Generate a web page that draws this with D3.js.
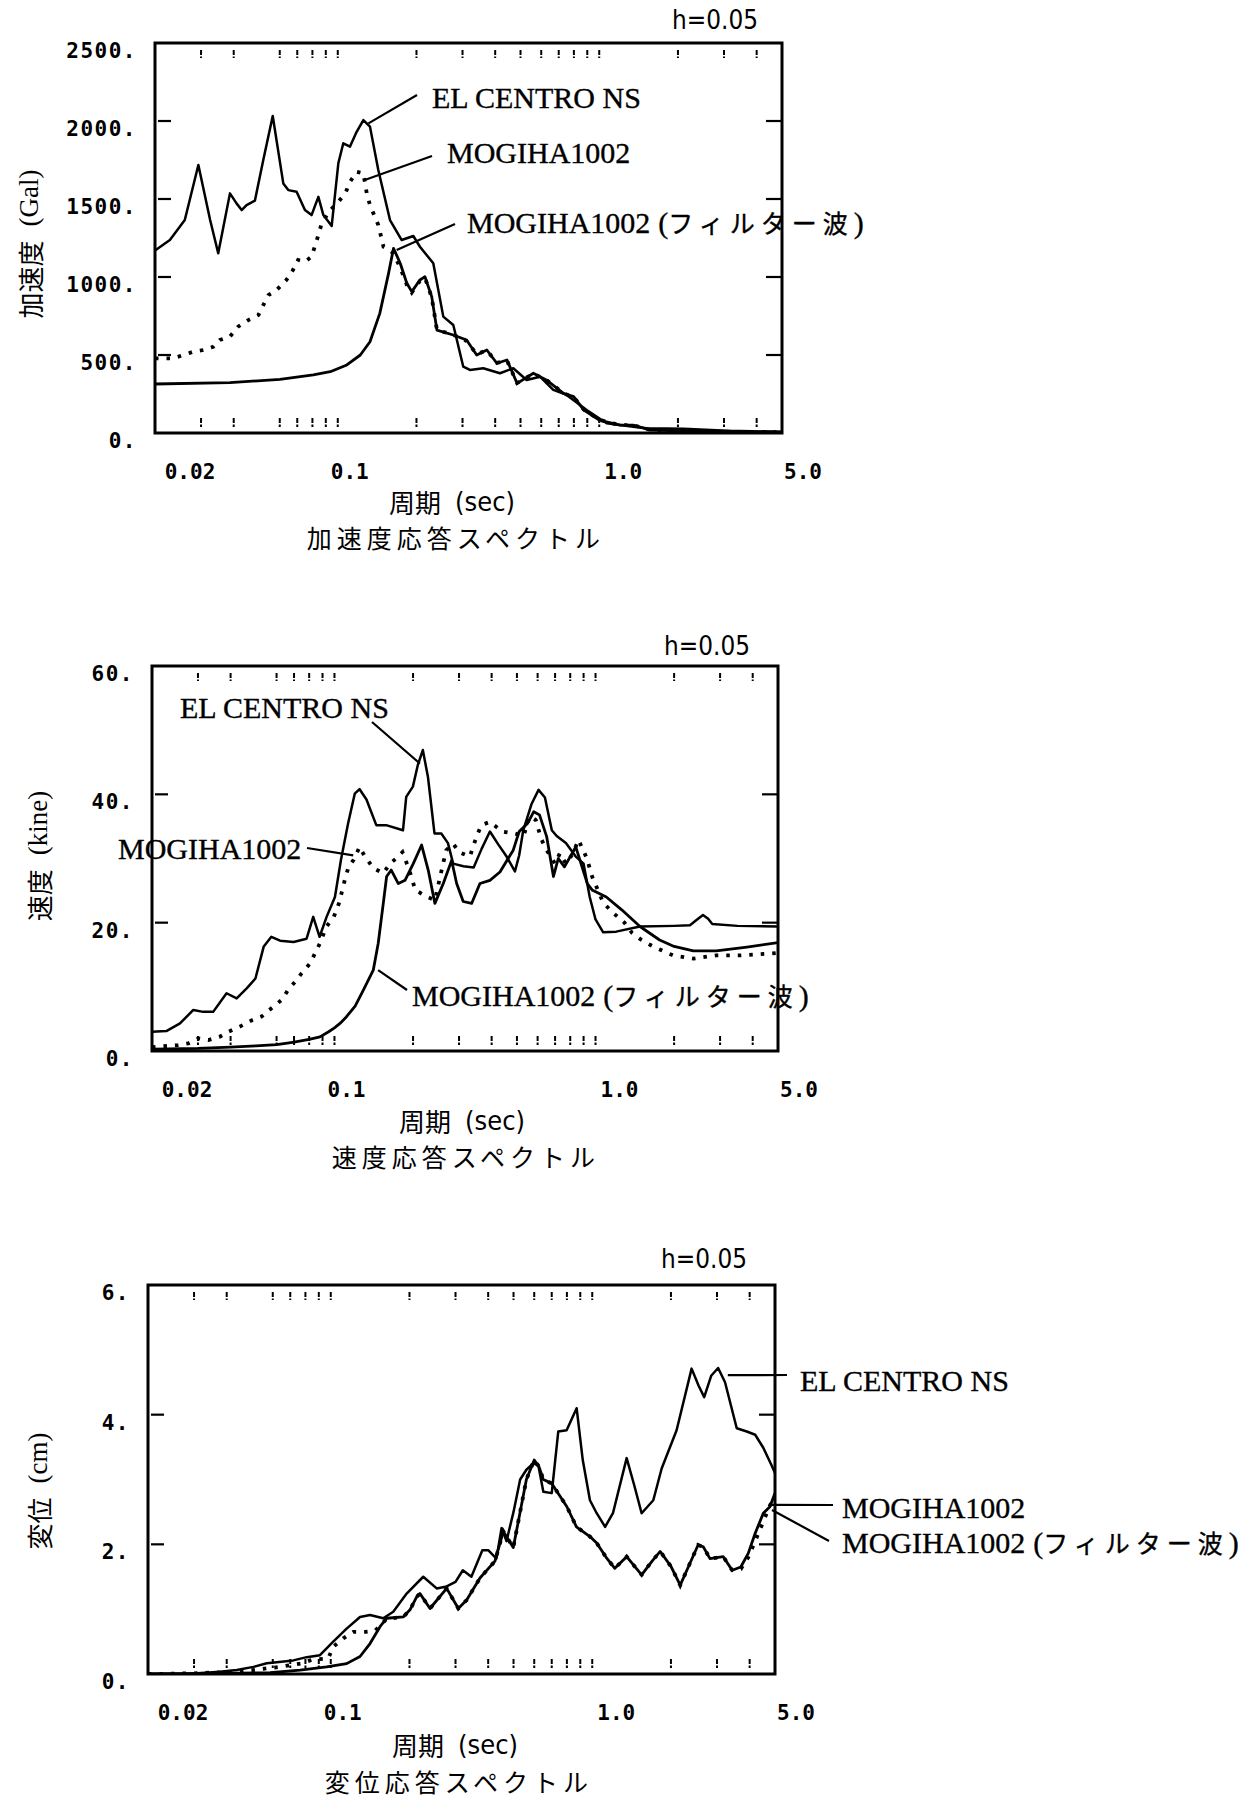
<!DOCTYPE html>
<html>
<head>
<meta charset="utf-8">
<script src="https://cdn.jsdelivr.net/npm/d3@7"></script>
<style>
  body { margin: 0; background: #fff; }
  svg { display: block; }
</style>
</head>
<body>
<svg id="chart" width="1254" height="1803"></svg>
<script>
// ---- data: [period (sec), value] ----
const periodLabelValues = [0.02, 0.1, 1, 5];
const periodLabels = ["0.02", "0.1", "1.0", "5.0"];
const minorPeriods = [0.03, 0.04, 0.06, 0.07, 0.08, 0.09, 0.1, 0.2, 0.3, 0.4, 0.5, 0.6, 0.7, 0.8, 0.9, 1, 2, 3, 4];

const accTicks = [0, 500, 1000, 1500, 2000, 2500];
const accTickLabels = ["0.", "500.", "1000.", "1500.", "2000.", "2500."];
const velTicks = [0, 20, 40, 60];
const velTickLabels = ["0.", "20.", "40.", "60."];
const dispTicks = [0, 2, 4, 6];
const dispTickLabels = ["0.", "2.", "4.", "6."];

// acceleration (Gal)
const accElCentro = [[0.02,1170],[0.0228,1237],[0.026,1365],[0.0293,1718],[0.0325,1365],[0.0349,1152],[0.0387,1536],[0.041,1472],[0.0429,1429],[0.0448,1461],[0.0482,1489],[0.0519,1750],[0.0564,2032],[0.0619,1600],[0.0647,1557],[0.0696,1547],[0.0749,1429],[0.0794,1397],[0.0843,1514],[0.0881,1397],[0.0948,1327],[0.1005,1729],[0.105,1857],[0.1114,1836],[0.1181,1931],[0.1253,2006],[0.1328,1964],[0.1429,1686],[0.1584,1365],[0.1756,1237],[0.1945,1263],[0.2062,1194],[0.2319,1088],[0.2533,746],[0.2766,692],[0.302,425],[0.3203,404],[0.3601,415],[0.4171,383],[0.4691,415],[0.5276,340],[0.5934,361],[0.6672,276],[0.7504,244],[0.8953,147],[1.0675,62],[1.349,40],[1.518,30],[2.1,28],[3.1,15],[5,8]];
const accMogiha = [[0.02,479],[0.0235,479],[0.0257,500],[0.0281,522],[0.0306,532],[0.0334,553],[0.0354,596],[0.0387,618],[0.0416,682],[0.0455,724],[0.0497,756],[0.0519,820],[0.0543,884],[0.0584,917],[0.0636,981],[0.0674,1045],[0.0705,1109],[0.0749,1098],[0.0794,1130],[0.0843,1269],[0.0868,1344],[0.0936,1429],[0.0994,1472],[0.1069,1536],[0.1114,1610],[0.1181,1675],[0.1253,1665],[0.1291,1536],[0.1328,1461],[0.1429,1333],[0.1496,1194],[0.158,1170],[0.1634,1150],[0.1733,1060],[0.1837,950],[0.1919,900],[0.2062,975],[0.2155,995],[0.2287,870],[0.2395,660],[0.2766,630],[0.3109,590],[0.3399,505],[0.3716,530],[0.406,450],[0.4438,465],[0.4852,320],[0.5598,380],[0.6274,340],[0.7301,255],[0.7983,230],[0.8737,150],[1.0,85],[1.2,50],[1.349,50],[1.57,20],[2.4,10],[5,5]];
const accFilter = [[0.02,314],[0.0387,323],[0.0601,344],[0.0806,372],[0.0936,393],[0.1083,436],[0.122,500],[0.1328,585],[0.1448,767],[0.1564,1023],[0.1634,1184],[0.1733,1088],[0.1837,960],[0.1919,906],[0.2062,981],[0.2155,1002],[0.2287,874],[0.2395,660],[0.2766,628],[0.3109,596],[0.3399,500],[0.3716,532],[0.406,447],[0.4438,468],[0.4852,318],[0.5598,383],[0.6274,340],[0.7301,254],[0.7983,233],[0.8737,147],[1.0,83],[1.2,51],[1.349,51],[1.57,19],[2.4,10],[5,5]];

// velocity (kine)
const velElCentro = [[0.02,3.0],[0.0227,3.1],[0.0256,4.3],[0.0288,6.4],[0.0314,6.1],[0.0343,6.1],[0.0386,9.0],[0.0422,8.2],[0.0462,9.8],[0.0498,11.3],[0.0536,16.3],[0.0573,17.8],[0.0619,17.2],[0.0697,17.0],[0.0782,17.5],[0.0829,20.9],[0.0877,17.8],[0.0933,20.9],[0.1004,24.0],[0.1059,29.8],[0.1128,35.5],[0.1196,40.1],[0.1248,40.8],[0.1326,39.2],[0.1446,35.2],[0.1577,35.2],[0.183,34.4],[0.1883,39.6],[0.1997,41.2],[0.2087,44.6],[0.218,46.9],[0.2281,42.7],[0.2416,33.9],[0.2566,33.9],[0.2721,32.4],[0.2848,29.2],[0.3118,28.8],[0.3413,28.6],[0.3661,31.5],[0.394,34.2],[0.424,32.2],[0.4564,30.3],[0.4912,28.0],[0.51,30.5],[0.5286,34.4],[0.5689,38.5],[0.605,40.7],[0.64,39.5],[0.68,34.4],[0.71,33.5],[0.77,32.4],[0.84,30.3],[0.9,29.2],[0.95,24],[1.0,20.5],[1.07,18.5],[1.2,18.6],[1.48,19.4],[2.0,19.5],[2.3,19.6],[2.45,20.5],[2.58,21.2],[2.7,20.6],[2.8,19.8],[3.5,19.5],[5,19.4]];
const velMogiha = [[0.02,0.6],[0.0211,0.67],[0.0252,0.93],[0.0276,1.2],[0.0301,1.97],[0.0329,1.71],[0.0364,2.23],[0.0392,3.0],[0.0434,3.8],[0.0483,4.8],[0.0527,5.4],[0.0575,6.7],[0.0629,8.0],[0.0666,9.6],[0.0707,10.8],[0.0748,12.1],[0.0805,13.6],[0.0842,15.2],[0.088,16.8],[0.0932,19.4],[0.0994,20.9],[0.104,23.0],[0.1072,25.1],[0.1104,27.2],[0.1133,28.7],[0.1184,29.8],[0.1248,31.8],[0.13,30.5],[0.1408,28.5],[0.1538,27.7],[0.1632,29.2],[0.1722,30.0],[0.1822,31.0],[0.1935,28.2],[0.204,25.1],[0.222,24.2],[0.2425,23.5],[0.255,27.5],[0.2679,31.3],[0.2851,32.3],[0.30,31.0],[0.33,30.3],[0.35,33.4],[0.365,35.2],[0.394,35.7],[0.44,34.2],[0.49,33.9],[0.53,33.5],[0.56,36.6],[0.59,36.0],[0.62,33],[0.65,31.3],[0.70,29.2],[0.73,30.8],[0.77,29.2],[0.82,30.8],[0.86,32.9],[0.9,31.2],[0.93,29.8],[0.97,27.2],[1.07,23.1],[1.17,21.5],[1.29,20.0],[1.38,18.4],[1.5,17.3],[1.66,16.3],[1.98,14.9],[2.37,14.4],[2.9,14.9],[3.57,14.9],[4.7,15.2],[5,15.3]];
const velFilter = [[0.02,0.3],[0.03,0.4],[0.04,0.6],[0.05,0.8],[0.06,1.0],[0.065,1.2],[0.07,1.4],[0.08,1.8],[0.088,2.2],[0.095,3.0],[0.1,3.6],[0.105,4.3],[0.111,5.3],[0.12,7.0],[0.129,9.5],[0.1408,12.6],[0.1471,16.8],[0.1538,23],[0.1584,27.2],[0.165,28.2],[0.1756,26.1],[0.1863,26.6],[0.2004,29.2],[0.2157,32.1],[0.2286,28.2],[0.2425,23],[0.2611,26.1],[0.2811,29.7],[0.2938,26.1],[0.3113,23.3],[0.3352,23],[0.3608,26.1],[0.394,26.6],[0.4304,27.9],[0.4839,31.3],[0.51,34.2],[0.55,35.5],[0.58,37.3],[0.61,36.8],[0.65,33.4],[0.69,27.2],[0.72,30.0],[0.76,28.7],[0.84,31.8],[0.93,26.1],[0.97,25.1],[1.1,24.0],[1.26,22.0],[1.48,19.4],[1.76,17.3],[2.0,16.3],[2.37,15.6],[2.9,15.6],[3.8,16.2],[5,16.9]];

// displacement (cm)
const dispElCentro = [[0.02,0],[0.028,0.0],[0.0377,0.036],[0.0437,0.062],[0.0506,0.11],[0.0569,0.165],[0.0621,0.18],[0.0719,0.21],[0.0809,0.26],[0.0909,0.29],[0.1022,0.50],[0.115,0.70],[0.1294,0.88],[0.1413,0.91],[0.1588,0.86],[0.1734,0.96],[0.1951,1.24],[0.2258,1.50],[0.2541,1.32],[0.2775,1.35],[0.30,1.42],[0.32,1.60],[0.345,1.50],[0.38,1.91],[0.40,1.91],[0.43,1.78],[0.45,2.25],[0.47,2.05],[0.5,2.5],[0.53,3.0],[0.56,3.15],[0.595,3.25],[0.622,3.22],[0.65,2.81],[0.70,2.79],[0.7414,3.74],[0.7981,3.76],[0.8716,4.10],[0.92,3.3],[0.98,2.68],[1.04,2.48],[1.12,2.27],[1.2,2.48],[1.354,3.33],[1.45,2.9],[1.545,2.48],[1.712,2.68],[1.843,3.17],[2.102,3.76],[2.399,4.71],[2.55,4.45],[2.68,4.27],[2.85,4.6],[3.03,4.72],[3.22,4.5],[3.57,3.79],[3.9,3.74],[4.2,3.69],[4.51,3.49],[4.85,3.22],[5,3.1]];
const dispMogiha = [[0.02,0],[0.03,0.01],[0.04,0.03],[0.05,0.06],[0.064,0.11],[0.0774,0.165],[0.0848,0.22],[0.0978,0.24],[0.1022,0.42],[0.1117,0.55],[0.1221,0.65],[0.1355,0.65],[0.1481,0.67],[0.1636,0.85],[0.1893,0.88],[0.2009,0.99],[0.2131,1.19],[0.2194,1.24],[0.2396,1.01],[0.2775,1.32],[0.3075,1.01],[0.3309,1.14],[0.3721,1.48],[0.4246,1.74],[0.457,2.2],[0.499,1.95],[0.53,2.5],[0.56,3.0],[0.60,3.3],[0.625,3.2],[0.65,3.0],[0.70,2.94],[0.80,2.58],[0.87,2.27],[0.98,2.12],[1.04,2.02],[1.13,1.8],[1.22,1.63],[1.354,1.81],[1.545,1.53],[1.7,1.75],[1.82,1.89],[2.0,1.66],[2.17,1.37],[2.36,1.70],[2.54,1.99],[2.66,1.96],[2.82,1.78],[3.17,1.81],[3.43,1.60],[3.7,1.62],[3.95,1.8],[4.2,2.05],[4.51,2.35],[4.78,2.6],[5,2.75]];
const dispFilter = [[0.02,0],[0.0377,0.01],[0.0586,0.02],[0.0763,0.06],[0.0964,0.11],[0.115,0.16],[0.1294,0.27],[0.1413,0.47],[0.1543,0.73],[0.1636,0.86],[0.1893,0.88],[0.2009,0.99],[0.2131,1.19],[0.2194,1.24],[0.2396,1.01],[0.2775,1.32],[0.3075,1.01],[0.3309,1.14],[0.3721,1.48],[0.4246,1.74],[0.457,2.2],[0.499,1.95],[0.53,2.5],[0.56,3.0],[0.60,3.3],[0.625,3.2],[0.65,3.0],[0.70,2.94],[0.80,2.58],[0.87,2.27],[0.98,2.12],[1.04,2.02],[1.13,1.8],[1.22,1.63],[1.354,1.81],[1.545,1.53],[1.7,1.75],[1.82,1.89],[2.0,1.66],[2.17,1.37],[2.36,1.70],[2.54,1.99],[2.66,1.96],[2.82,1.78],[3.17,1.81],[3.43,1.60],[3.7,1.65],[3.95,1.86],[4.2,2.17],[4.51,2.48],[4.78,2.58],[5,2.79]];

const seriesNames = ["EL CENTRO NS", "MOGIHA1002", "MOGIHA1002"];
const filterSuffix = "フィルター波";

// ---- fonts / styles ----
const cjkFont = "'Noto Sans CJK JP', 'Noto Sans CJK SC', sans-serif";
const serifFont = "'Liberation Serif', 'Times New Roman', serif";
const monoFont = "'DejaVu Sans Mono', monospace";
const narrowFont = "'Liberation Sans Narrow', 'DejaVu Sans Condensed', 'Liberation Sans', sans-serif";
// the period labels sit a little right of their tick values in the scan
const periodLabelDx = [35, 12, 24, 21];

// ---- panel layout ----
const panels = [
  {
    box: {left: 155, right: 782, top: 43, bottom: 433},
    ymax: 2500, ticks: accTicks, tickLabels: accTickLabels,
    series: [accElCentro, accMogiha, accFilter],
    yTitle: {x: 29, y: 244, cjk: "加速度", latin: "(Gal)"},
    xTitleY: 501, titleX: 452, title: "加速度応答スペクトル", titleY: 537,
    h: {x: 672, y: 20},
    notes: [
      {tx: 432, ty: 97, from: [417, 95], to: [0.131, 1985]},
      {tx: 447, ty: 152, from: [432, 156], to: [0.126, 1620]},
      {tx: 467, ty: 222, from: [455, 224], to: [0.168, 1173]}
    ]
  },
  {
    box: {left: 152, right: 778, top: 666, bottom: 1051},
    ymax: 60, ticks: velTicks, tickLabels: velTickLabels,
    series: [velElCentro, velMogiha, velFilter],
    yTitle: {x: 38, y: 856, cjk: "速度", latin: "(kine)"},
    xTitleY: 1120, titleX: 462, title: "速度応答スペクトル", titleY: 1156,
    h: {x: 664, y: 646},
    notes: [
      {tx: 180, ty: 707, from: [372, 722], to: [0.2125, 44.8]},
      {tx: 118, ty: 848, from: [307, 848], to: [0.118, 30.5]},
      {tx: 412, ty: 995, from: [407, 990], to: [0.147, 12.6]}
    ]
  },
  {
    box: {left: 148, right: 775, top: 1285, bottom: 1674},
    ymax: 6, ticks: dispTicks, tickLabels: dispTickLabels,
    series: [dispElCentro, dispMogiha, dispFilter],
    yTitle: {x: 38, y: 1491, cjk: "変位", latin: "(cm)"},
    xTitleY: 1744, titleX: 455, title: "変位応答スペクトル", titleY: 1781,
    h: {x: 661, y: 1259},
    notes: [
      {tx: 800, ty: 1380, from: [787, 1375], to: [3.3, 4.61]},
      {tx: 842, ty: 1507, from: [833, 1505], to: [4.87, 2.61]},
      {tx: 842, ty: 1542, from: [829, 1541], to: [4.87, 2.53]}
    ]
  }
];

const svg = d3.select("#chart");
svg.append("rect").attr("width", 1254).attr("height", 1803).attr("fill", "#fff");

panels.forEach((p, pi) => drawPanel(p, pi));

function drawPanel(p, pi) {
  const b = p.box;
  const g = svg.append("g").attr("class", "panel");
  const x = d3.scaleLog().domain([0.02, 5]).range([b.left, b.right]);
  const y = d3.scaleLinear().domain([0, p.ymax]).range([b.bottom, b.top]);

  const clipId = "clip" + pi;
  g.append("clipPath").attr("id", clipId)
    .append("rect")
    .attr("x", b.left).attr("y", b.top - 2)
    .attr("width", b.right - b.left).attr("height", b.bottom - b.top + 2);

  const line = d3.line().x(d => x(d[0])).y(d => y(d[1]));
  const curves = g.append("g").attr("clip-path", `url(#${clipId})`);

  // filtered wave and EL CENTRO solid, raw MOGIHA dotted
  curves.append("path").datum(p.series[2])
    .attr("d", line).attr("fill", "none")
    .attr("stroke", "#000").attr("stroke-width", 2.8)
    .attr("stroke-linejoin", "round");
  curves.append("path").datum(p.series[1])
    .attr("d", line).attr("fill", "none")
    .attr("stroke", "#000").attr("stroke-width", 3.8)
    .attr("stroke-dasharray", "3.5 8");
  curves.append("path").datum(p.series[0])
    .attr("d", line).attr("fill", "none")
    .attr("stroke", "#000").attr("stroke-width", 2.5)
    .attr("stroke-linejoin", "round");

  // frame
  g.append("rect")
    .attr("x", b.left).attr("y", b.top)
    .attr("width", b.right - b.left).attr("height", b.bottom - b.top)
    .attr("fill", "none").attr("stroke", "#000").attr("stroke-width", 3);

  // inner y ticks on both sides
  const inner = p.ticks.slice(1, -1);
  g.selectAll(".ytl").data(inner).enter().append("line")
    .attr("x1", b.left + 3).attr("x2", b.left + 16)
    .attr("y1", d => y(d)).attr("y2", d => y(d))
    .attr("stroke", "#000").attr("stroke-width", 2.2);
  g.selectAll(".ytr").data(inner).enter().append("line")
    .attr("x1", b.right - 16).attr("x2", b.right - 1)
    .attr("y1", d => y(d)).attr("y2", d => y(d))
    .attr("stroke", "#000").attr("stroke-width", 2.2);

  // short log ticks inside top and bottom edges
  [[b.top + 7, b.top + 15], [b.bottom - 15, b.bottom - 6]].forEach(([y1, y2]) => {
    g.append("g").selectAll("line").data(minorPeriods).enter().append("line")
      .attr("x1", d => x(d)).attr("x2", d => x(d))
      .attr("y1", y1).attr("y2", y2)
      .attr("stroke", "#000").attr("stroke-width", 2)
      .attr("stroke-dasharray", "5 1.5");
  });

  // y tick labels
  g.selectAll(".ylab").data(p.ticks).enter().append("text")
    .attr("x", b.left - 18).attr("y", d => y(d) + 8)
    .attr("text-anchor", "end").attr("dominant-baseline", "central")
    .attr("font-family", monoFont).attr("font-weight", "bold").attr("font-size", 21)
    .attr("letter-spacing", 1.5)
    .text((d, i) => p.tickLabels[i]);

  // x tick labels
  g.selectAll(".xlab").data(periodLabelValues).enter().append("text")
    .attr("x", (d, i) => x(d) + periodLabelDx[i]).attr("y", b.bottom + 39)
    .attr("text-anchor", "middle").attr("dominant-baseline", "central")
    .attr("font-family", monoFont).attr("font-weight", "bold").attr("font-size", 21)
    .text((d, i) => periodLabels[i]);

  // x axis title and panel title
  const xt = g.append("text")
    .attr("x", p.titleX).attr("y", p.xTitleY)
    .attr("text-anchor", "middle").attr("dominant-baseline", "central");
  xt.append("tspan").attr("font-family", cjkFont).attr("font-size", 26).text("周期");
  xt.append("tspan").attr("dx", 14).attr("font-family", narrowFont).attr("font-size", 27).text("(sec)");

  g.append("text")
    .attr("x", p.titleX + 4).attr("y", p.titleY)
    .attr("text-anchor", "middle").attr("dominant-baseline", "central")
    .attr("font-family", cjkFont).attr("font-size", 25)
    .attr("letter-spacing", 5)
    .text(p.title);

  // y axis title, rotated
  const yt = g.append("text")
    .attr("transform", `translate(${p.yTitle.x},${p.yTitle.y}) rotate(-90)`)
    .attr("text-anchor", "middle").attr("dominant-baseline", "central");
  yt.append("tspan").attr("font-family", cjkFont).attr("font-size", 26).text(p.yTitle.cjk);
  yt.append("tspan").attr("dx", 14).attr("font-family", serifFont).attr("font-size", 27).text(p.yTitle.latin);

  // damping note
  g.append("text")
    .attr("x", p.h.x).attr("y", p.h.y)
    .attr("dominant-baseline", "central")
    .attr("font-family", narrowFont).attr("font-size", 26)
    .attr("textLength", 86).attr("lengthAdjust", "spacingAndGlyphs")
    .text("h=0.05");

  // series labels with leader lines
  p.notes.forEach((n, si) => {
    g.append("line")
      .attr("x1", n.from[0]).attr("y1", n.from[1])
      .attr("x2", x(n.to[0])).attr("y2", y(n.to[1]))
      .attr("stroke", "#000").attr("stroke-width", 2.2);
    const t = g.append("text")
      .attr("x", n.tx).attr("y", n.ty)
      .attr("dominant-baseline", "central")
      .attr("font-family", serifFont).attr("font-size", 30)
      .attr("stroke", "#000").attr("stroke-width", 0.35);
    t.append("tspan").text(seriesNames[si]);
    if (si === 2) {
      t.append("tspan").attr("dx", 8).text("(");
      t.append("tspan").attr("font-family", cjkFont).attr("font-size", 25)
        .attr("letter-spacing", 6).text(filterSuffix);
      t.append("tspan").text(")");
    }
  });
}
</script>
</body>
</html>
